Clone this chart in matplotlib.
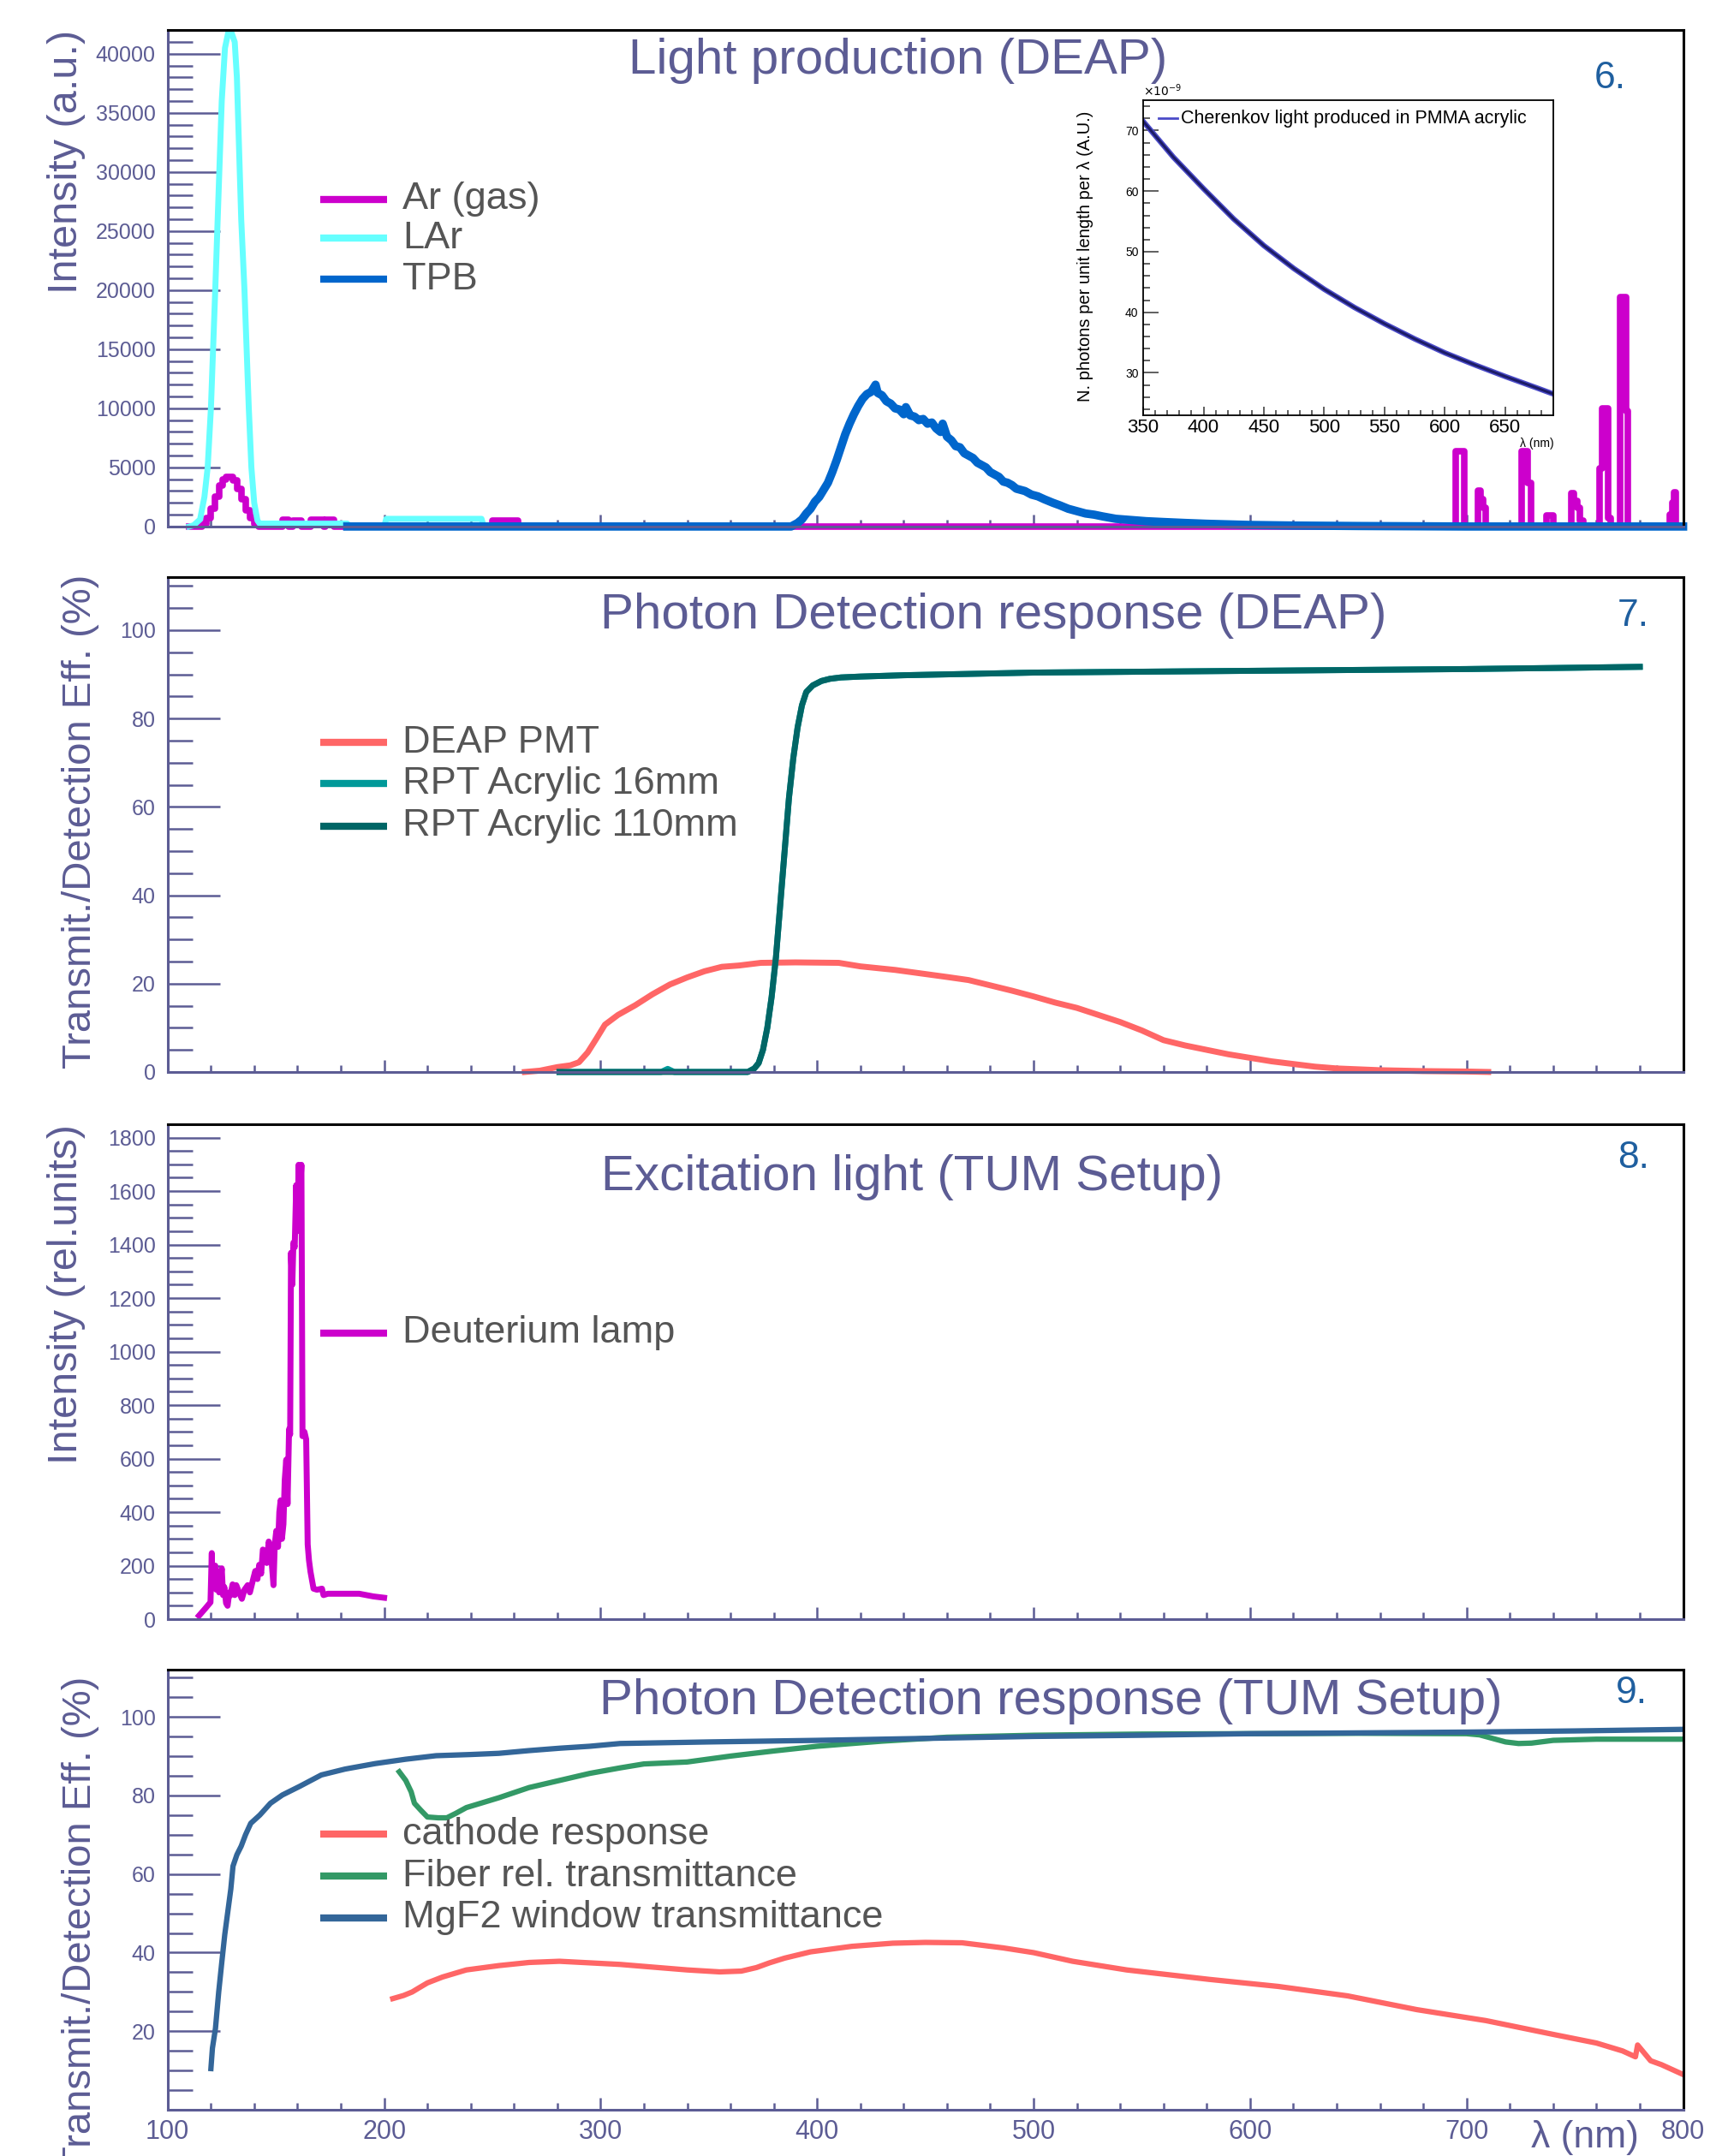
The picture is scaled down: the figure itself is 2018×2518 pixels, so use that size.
import numpy as np
import matplotlib.pyplot as plt
from matplotlib.ticker import MultipleLocator

plt.rcParams['font.family'] = ['Liberation Sans', 'DejaVu Sans']

AXC = '#5c5c94'      # ROOT-ish axis / title colour
LEGC = '#555555'
NUMC = '#1f5f9f'

# ---------------- panel 6: light production ----------------
ar_nm = [110, 116, 118, 120, 122, 124, 125.5, 127, 130, 132, 134, 136, 138, 140, 142,
         153, 156, 158, 162, 166, 172, 173, 177, 250, 262,
         690, 695, 699, 705.4, 706.5, 707.6, 709, 725.3, 728.3, 729.6, 737, 740,
         748.4, 749.6, 751, 752.3, 754, 761.4, 762.6, 765.5, 766.4, 770.9, 773.6,
         774.6, 794, 794.9, 795.7, 796.8, 800]
ar_val = [0, 200, 700, 1500, 2500, 3500, 4000, 4200, 3900, 3200, 2300, 1400, 700, 200, 0,
          600, 0, 500, 0, 600, 0, 600, 0, 500, 0,
          0, 6400, 0, 3000, 2300, 1600, 0, 6400, 3700, 0, 900, 0,
          2800, 2200, 1600, 500, 0, 4900, 10000, 700, 0, 19400, 9800,
          0, 1000, 2000, 2900, 0, 0]

lar_nm = [110, 112, 115, 117, 118.5, 120, 121, 122, 123.5, 125, 126.5, 128, 129.5, 131,
          132, 133, 134, 135.5, 136.5, 137.5, 138.7, 140, 141.5, 142.5, 183, 184,
          200, 201, 245, 246, 250]
lar_val = [0, 100, 600, 2500, 5000, 10000, 15000, 20000, 28000, 36000, 40500, 41800,
           41800, 41000, 38000, 32000, 26000, 20000, 15000, 10000, 5000, 2000, 500, 250,
           250, 0, 0, 650, 650, 0, 0]

tpb_nm = [183, 388, 391, 393, 395, 397, 399, 401, 403, 405, 407, 409, 411, 413, 415,
          417, 419, 421, 423, 425, 427, 428, 430, 432, 434, 436, 438, 440, 441, 443,
          445, 447, 449, 451, 453, 455, 457, 458, 460, 462, 464, 466, 468, 470, 472,
          474, 476, 478, 480, 482, 484, 486, 488, 490, 492, 494, 496, 499, 502, 505,
          509, 512, 516, 520, 524, 528, 532, 538, 545, 552, 560, 570, 580, 590, 600,
          620, 650, 700, 800]
tpb_val = [0, 0, 300, 600, 1100, 1500, 2100, 2500, 3100, 3700, 4600, 5600, 6700, 7800,
           8700, 9500, 10200, 10800, 11200, 11400, 12000, 11300, 11100, 10600, 10400,
           10000, 9900, 9500, 10100, 9400, 9300, 9000, 9100, 8700, 8800, 8300, 8000,
           8700, 7600, 7300, 6800, 6700, 6200, 6000, 5800, 5400, 5200, 5000, 4600, 4400,
           4200, 3800, 3700, 3500, 3200, 3100, 3000, 2700, 2550, 2300, 2000, 1800, 1500,
           1300, 1100, 1000, 850, 650, 550, 450, 380, 300, 230, 180, 130, 80, 40, 0, 0]

ch_nm = [350, 375, 400, 425, 450, 475, 500, 525, 550, 575, 600, 625, 650, 675, 690]
ch_val = [71.5, 65.6, 60.4, 55.4, 51.0, 47.2, 43.8, 40.8, 38.1, 35.6, 33.3, 31.3,
          29.4, 27.6, 26.5]

# ---------------- panel 7: DEAP detection response ----------------
pmt_nm = [265, 272, 280, 286, 290, 294, 298, 302, 308, 316, 324, 332, 340, 348, 356,
          364, 374, 390, 410, 420, 436, 448, 460, 470, 480, 490, 500, 510, 520, 530,
          540, 550, 560, 570, 580, 590, 600, 610, 620, 630, 640, 660, 680, 700, 710]
pmt_val = [0, 0.3, 1.1, 1.5, 2.2, 4.4, 7.5, 10.7, 12.9, 15.1, 17.6, 19.8, 21.4, 22.8,
           23.8, 24.1, 24.7, 24.8, 24.7, 23.9, 23.1, 22.3, 21.5, 20.8, 19.6, 18.4, 17.1,
           15.7, 14.5, 12.9, 11.3, 9.4, 7.2, 6.0, 5.0, 4.0, 3.2, 2.4, 1.8, 1.2, 0.8,
           0.4, 0.2, 0.1, 0.0]

acr16_nm = [281, 328, 331, 334, 368, 371, 373, 375, 377, 379, 381, 383, 385, 387, 389,
            391, 393, 395, 398, 402, 406, 411, 420, 440, 470, 500, 550, 600, 650, 700,
            750, 780]
acr16_val = [0, 0, 0.7, 0, 0, 0.8, 2.0, 5, 10, 17, 26, 38, 50, 62, 71, 78, 83, 86,
             87.5, 88.5, 89.0, 89.3, 89.5, 89.8, 90.1, 90.4, 90.6, 90.8, 91.0, 91.2,
             91.5, 91.7]
acr110_nm = [281, 300, 330, 350, 368, 371, 373, 375, 377, 379, 381, 383, 385, 387, 389,
             391, 393, 395, 398, 402, 406, 411, 420, 440, 470, 500, 550, 600, 650, 700,
             750, 780]
acr110_val = [0, 0, 0, 0, 0, 0.8, 2.0, 5, 10, 17, 26, 38, 50, 62, 71, 78, 83, 86,
              87.5, 88.5, 89.0, 89.3, 89.5, 89.8, 90.1, 90.4, 90.6, 90.8, 91.0, 91.2,
              91.5, 91.7]

# ---------------- panel 8: deuterium lamp ----------------
lamp_nm = [114.5, 117.2, 119.8, 120.4, 120.6, 121.0, 121.4, 122.0, 122.5, 123.2, 123.8,
           124.5, 125.0, 125.6, 126.2, 127.0, 127.7, 128.5, 129.0, 130.0, 131.0, 131.7,
           133.0, 134.3, 135.5, 137.0, 138.0, 139.6, 140.5, 141.5, 142.3, 143.2, 144.0,
           144.9, 145.8, 146.7, 147.6, 148.2, 148.9, 149.5, 150.2, 151.0, 151.6, 152.2,
           152.8, 153.5, 154.1, 154.8, 155.4, 156.1, 156.6, 157.0, 157.6, 158.1, 158.7,
           159.4, 160.0, 160.5, 161.2, 161.8, 162.3, 163.2, 164.0, 164.7, 165.3, 166.0,
           167.4, 169.0, 171.3, 172.0, 174.0, 188.5, 195.0, 200.0]
lamp_val = [13, 38, 63, 247, 120, 180, 127, 200, 110, 165, 100, 150, 190, 90, 120, 60,
            50, 100, 89, 130, 90, 127, 100, 76, 110, 127, 100, 152, 180, 150, 203, 170,
            260, 253, 210, 290, 266, 200, 127, 280, 330, 270, 400, 444, 300, 355, 520,
            596, 430, 710, 690, 1369, 1250, 1407, 1390, 1622, 1450, 1698, 1600, 1698,
            684, 700, 672, 279, 220, 177, 114, 110, 114, 90, 95, 95, 85, 80]

# ---------------- panel 9: TUM detection response ----------------
cath_nm = [204, 209, 213, 216, 220, 227, 238, 253, 267, 281, 295, 309, 320, 340, 355,
           365, 372, 378, 385, 397, 416, 435, 450, 467, 486, 500, 518, 543, 581, 613,
           645, 677, 709, 740, 760, 772, 778, 779, 785, 790, 800]
cath_val = [28.3, 29.1, 30.0, 31.0, 32.3, 33.8, 35.6, 36.7, 37.5, 37.8, 37.4, 37.0,
            36.5, 35.6, 35.1, 35.3, 36.2, 37.4, 38.6, 40.2, 41.6, 42.4, 42.6, 42.5,
            41.2, 40.0, 37.8, 35.6, 33.2, 31.4, 29.0, 25.5, 22.7, 19.2, 17.0, 15.0,
            13.5, 16.5, 12.5, 11.5, 9.0]
fib_nm = [207, 210, 212.5, 214, 217, 220, 225, 229, 233, 238, 253, 267, 281, 295, 309,
          320, 340, 360, 380, 400, 430, 460, 500, 550, 600, 650, 700, 706, 712, 718,
          724, 730, 740, 760, 800]
fib_val = [86, 83.8, 80.9, 78, 76.2, 74.5, 74.3, 74.3, 75.4, 76.9, 79.4, 82, 83.8,
           85.6, 87, 88, 88.5, 90, 91.3, 92.5, 93.8, 94.8, 95.3, 95.6, 95.7, 95.8,
           95.7, 95.4, 94.5, 93.6, 93.2, 93.3, 94.0, 94.3, 94.3]
mgf2_nm = [120, 120.7, 122.1, 123.6, 125, 126.4, 127.8, 129.2, 130.2, 132, 134, 136,
           138.4, 142.6, 147.5, 153, 161, 171, 182, 196, 210, 224, 240, 253, 267, 281,
           295, 309, 350, 400, 450, 500, 550, 600, 650, 700, 750, 800]
mgf2_val = [10.5, 15.7, 20.7, 30, 37.4, 44.6, 50.4, 56.2, 62, 64.9, 67.1, 70, 72.9,
            75, 78, 80.1, 82.3, 85.2, 86.7, 88.1, 89.2, 90.1, 90.4, 90.7, 91.4, 92,
            92.5, 93.2, 93.6, 94.0, 94.5, 95.0, 95.3, 95.7, 95.9, 96.1, 96.4, 96.8]


fig = plt.figure(figsize=(20.18, 25.18), dpi=100)
L, W = 0.097, 0.877
rects = [(0.7558, 0.2302), (0.5028, 0.2295), (0.2490, 0.2296), (0.0214, 0.2042)]
axes = [fig.add_axes([L, b, W, h]) for b, h in rects]


def style(ax, ymax, ymaj, ymin, xlabels=False):
    ax.set_xlim(100, 800)
    ax.set_ylim(0, ymax)
    ax.xaxis.set_major_locator(MultipleLocator(100))
    ax.xaxis.set_minor_locator(MultipleLocator(20))
    ax.yaxis.set_major_locator(MultipleLocator(ymaj))
    ax.yaxis.set_minor_locator(MultipleLocator(ymin))
    ax.tick_params(axis='y', which='major', direction='in', length=44, width=1.8,
                   color=AXC, labelcolor=AXC, labelsize=18, pad=10)
    ax.tick_params(axis='y', which='minor', direction='in', length=21, width=1.8,
                   color=AXC)
    ax.tick_params(axis='x', which='major', direction='in', length=10, width=1.8,
                   color=AXC, labelcolor=AXC, labelsize=22, pad=8,
                   labelbottom=xlabels)
    ax.tick_params(axis='x', which='minor', direction='in', length=6, width=1.8,
                   color=AXC)
    for s in ('left', 'bottom'):
        ax.spines[s].set_color(AXC)
        ax.spines[s].set_linewidth(2.2)
    for s in ('top', 'right'):
        ax.spines[s].set_color('black')
        ax.spines[s].set_linewidth(2.2)


def legend(ax, entries, ys, lw):
    for (lab, col), y in zip(entries, ys):
        ax.plot([0.101, 0.145], [y, y], color=col, lw=lw, transform=ax.transAxes,
                solid_capstyle='butt')
        ax.text(0.155, y, lab, color=LEGC, fontsize=32.5, va='center', ha='left',
                transform=ax.transAxes)


def title(ax, x, y, txt):
    ax.text(x, y, txt, color=AXC, fontsize=42, ha='center', va='center',
            transform=ax.transAxes)


def number(ax, x, y, txt):
    ax.text(x, y, txt, color=NUMC, fontsize=32, ha='center', va='center',
            transform=ax.transAxes)


# panel 6
ax = axes[0]
style(ax, 42000, 5000, 1000)
ax.step(ar_nm, ar_val, where='post', color='#cc00cc', lw=5.5, clip_on=False)
ax.plot(lar_nm, lar_val, color='#66ffff', lw=5, clip_on=False)
ax.plot(tpb_nm, tpb_val, color='#0066cc', lw=7, clip_on=False)
title(ax, 0.482, 0.938, 'Light production (DEAP)')
number(ax, 0.952, 0.903, '6.')
legend(ax, [('Ar (gas)', '#cc00cc'), ('LAr', '#66ffff'), ('TPB', '#0066cc')],
       [0.659, 0.581, 0.498], 6)
fig.text(0.0382, 0.925, 'Intensity (a.u.)', rotation=90, color=AXC, fontsize=35,
         ha='center', va='center')

# inset: Cherenkov light
ins = fig.add_axes([0.6616, 0.8074, 0.2374, 0.1461])
ins.plot(ch_nm, ch_val, color='#4a4ac8', lw=4.5)
ins.plot(ch_nm, ch_val, color='#1c1c66', lw=2.2)
ins.set_xlim(350, 690)
ins.set_ylim(23, 75)
ins.xaxis.set_major_locator(MultipleLocator(50))
ins.xaxis.set_minor_locator(MultipleLocator(10))
ins.yaxis.set_major_locator(MultipleLocator(10))
ins.yaxis.set_minor_locator(MultipleLocator(2))
ins.tick_params(axis='y', which='major', direction='in', length=13, width=1.2,
                labelsize=10, pad=4, color='#444444')
ins.tick_params(axis='y', which='minor', direction='in', length=6, width=1.2,
                color='#444444')
ins.tick_params(axis='x', which='major', direction='in', length=7, width=1.2,
                labelsize=16, pad=3, color='#444444')
ins.tick_params(axis='x', which='minor', direction='in', length=4, width=1.2,
                color='#444444')
for s in ins.spines.values():
    s.set_linewidth(1.3)
ins.plot([0.038, 0.083], [0.943, 0.943], color='#4a4ac8', lw=2,
         transform=ins.transAxes)
ins.text(0.092, 0.943, 'Cherenkov light produced in PMMA acrylic', fontsize=15.5,
         va='center', ha='left', transform=ins.transAxes)
ins.text(0.0, 1.005, r'$\times10^{-9}$', fontsize=10, ha='left', va='bottom',
         transform=ins.transAxes)
ins.text(1.0, -0.07, 'λ (nm)', fontsize=10, ha='right', va='top',
         transform=ins.transAxes)
fig.text(0.628, 0.881, 'N. photons per unit length per λ (A.U.)', rotation=90,
         fontsize=14.5, ha='center', va='center')

# panel 7
ax = axes[1]
style(ax, 112, 20, 5)
ax.plot(pmt_nm, pmt_val, color='#ff6666', lw=5, clip_on=False)
ax.plot(acr16_nm, acr16_val, color='#009999', lw=5, clip_on=False)
ax.plot(acr110_nm, acr110_val, color='#006666', lw=5, clip_on=False)
title(ax, 0.545, 0.922, 'Photon Detection response (DEAP)')
number(ax, 0.967, 0.922, '7.')
legend(ax, [('DEAP PMT', '#ff6666'), ('RPT Acrylic 16mm', '#009999'),
            ('RPT Acrylic 110mm', '#006666')], [0.666, 0.583, 0.497], 6)
fig.text(0.0466, 0.619, 'Transmit./Detection Eff. (%)', rotation=90, color=AXC,
         fontsize=34, ha='center', va='center')

# panel 8
ax = axes[2]
style(ax, 1850, 200, 50)
ax.plot(lamp_nm, lamp_val, color='#cc00cc', lw=5, clip_on=False)
title(ax, 0.491, 0.893, 'Excitation light (TUM Setup)')
number(ax, 0.967, 0.931, '8.')
legend(ax, [('Deuterium lamp', '#cc00cc')], [0.578], 6)
fig.text(0.0382, 0.3995, 'Intensity (rel.units)', rotation=90, color=AXC,
         fontsize=35, ha='center', va='center')

# panel 9
ax = axes[3]
style(ax, 112, 20, 5, xlabels=True)
ax.set_yticks([20, 40, 60, 80, 100])
ax.plot(cath_nm, cath_val, color='#ff6666', lw=4.5)
ax.plot(fib_nm, fib_val, color='#339966', lw=4.5)
ax.plot(mgf2_nm, mgf2_val, color='#336699', lw=4.5)
title(ax, 0.583, 0.928, 'Photon Detection response (TUM Setup)')
number(ax, 0.966, 0.947, '9.')
legend(ax, [('cathode response', '#ff6666'), ('Fiber rel. transmittance', '#339966'),
            ('MgF2 window transmittance', '#336699')], [0.626, 0.531, 0.436], 6)
fig.text(0.0466, 0.108, 'Transmit./Detection Eff. (%)', rotation=90, color=AXC,
         fontsize=34, ha='center', va='center')
fig.text(0.917, 0.0085, 'λ (nm)', color=AXC, fontsize=32, ha='center',
         va='center')

fig.savefig('out.png', dpi=100)
